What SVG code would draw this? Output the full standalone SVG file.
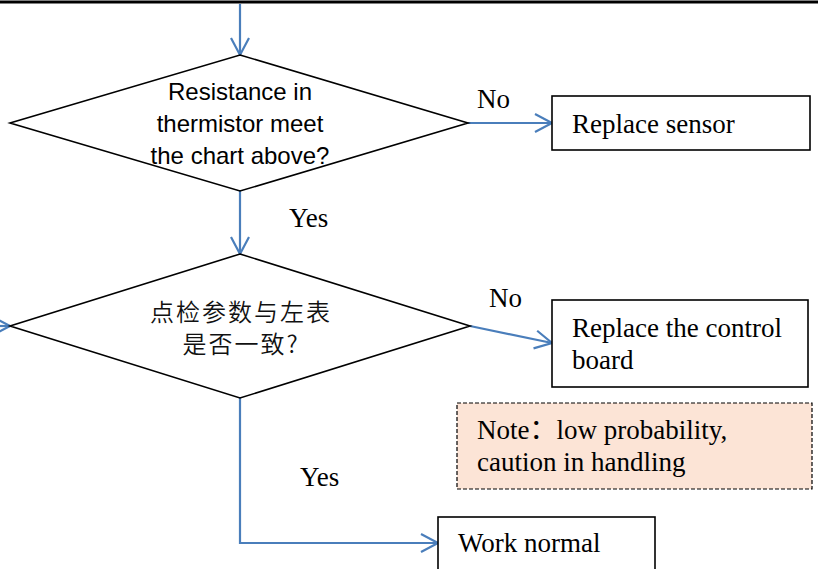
<svg xmlns="http://www.w3.org/2000/svg" width="818" height="569" viewBox="0 0 818 569">
  <style>
    .shape { fill: #ffffff; stroke: #000000; stroke-width: 1.6; }
    .note { fill: #fce4d6; stroke: #000000; stroke-width: 1.2; stroke-dasharray: 4 2; }
    .flow { fill: none; stroke: #4a7ebb; stroke-width: 2.2; marker-end: url(#open); }
    .sans { font-family: "Liberation Sans", Arial, sans-serif; font-size: 24px; fill: #000; }
    .serif { font-family: "Liberation Serif", "Times New Roman", "Noto Sans CJK SC", serif; font-size: 27px; fill: #000; }
    .cjk { font-family: "Noto Sans CJK SC", "Liberation Sans", sans-serif; font-size: 24px; font-weight: 350; letter-spacing: 2px; fill: #111; }
  </style>
  <defs>
    <marker id="open" markerUnits="userSpaceOnUse" viewBox="-20 -12 24 24" refX="0" refY="0" markerWidth="24" markerHeight="24" orient="auto" overflow="visible">
      <path d="M-17,-9 L0,0 L-17,9" fill="none" stroke="#4a7ebb" stroke-width="2.2"/>
    </marker>
  </defs>

  <rect width="818" height="569" fill="#ffffff"/>
  <!-- rule above the chart -->
  <line x1="0" y1="2" x2="818" y2="2" stroke="#000" stroke-width="3"/>

  <g id="connectors">
    <path class="flow" d="M240,4 L240,55"/>
    <path class="flow" d="M468,123 L552,123"/>
    <path class="flow" d="M240,191 L240,254"/>
    <path class="flow" d="M-20,326 L10,326"/>
    <path class="flow" d="M470,326 L552,343"/>
    <path class="flow" d="M240,398 L240,543 L438,543"/>
    <text class="serif" x="477" y="108">No</text>
    <text class="serif" x="289" y="227">Yes</text>
    <text class="serif" x="489" y="307">No</text>
    <text class="serif" x="300" y="486">Yes</text>
  </g>

  <g id="check-thermistor">
    <polygon class="shape" points="240,55 468,123 240,191 10,123"/>
    <text class="sans" text-anchor="middle" x="240" y="100">Resistance in</text>
    <text class="sans" text-anchor="middle" x="240" y="132">thermistor meet</text>
    <text class="sans" text-anchor="middle" x="240" y="164">the chart above?</text>
  </g>

  <g id="replace-sensor">
    <rect class="shape" x="552" y="96" width="258" height="54"/>
    <text class="serif" x="572" y="133">Replace sensor</text>
  </g>

  <g id="check-parameters">
    <polygon class="shape" points="240,254 470,326 240,398 10,326"/>
    <text class="cjk" text-anchor="middle" x="241" y="321">点检参数与左表</text>
    <text class="cjk" text-anchor="middle" x="241" y="353">是否一致?</text>
  </g>

  <g id="replace-board">
    <rect class="shape" x="552" y="300" width="256" height="87"/>
    <text class="serif" x="572" y="337">Replace the control</text>
    <text class="serif" x="572" y="369">board</text>
  </g>

  <g id="note">
    <rect class="note" x="457" y="403" width="355" height="86"/>
    <text class="serif" x="477" y="439">Note：low probability,</text>
    <text class="serif" x="477" y="471">caution in handling</text>
  </g>

  <g id="work-normal">
    <rect class="shape" x="438" y="517" width="217" height="60"/>
    <text class="serif" x="458" y="552">Work normal</text>
  </g>
</svg>
